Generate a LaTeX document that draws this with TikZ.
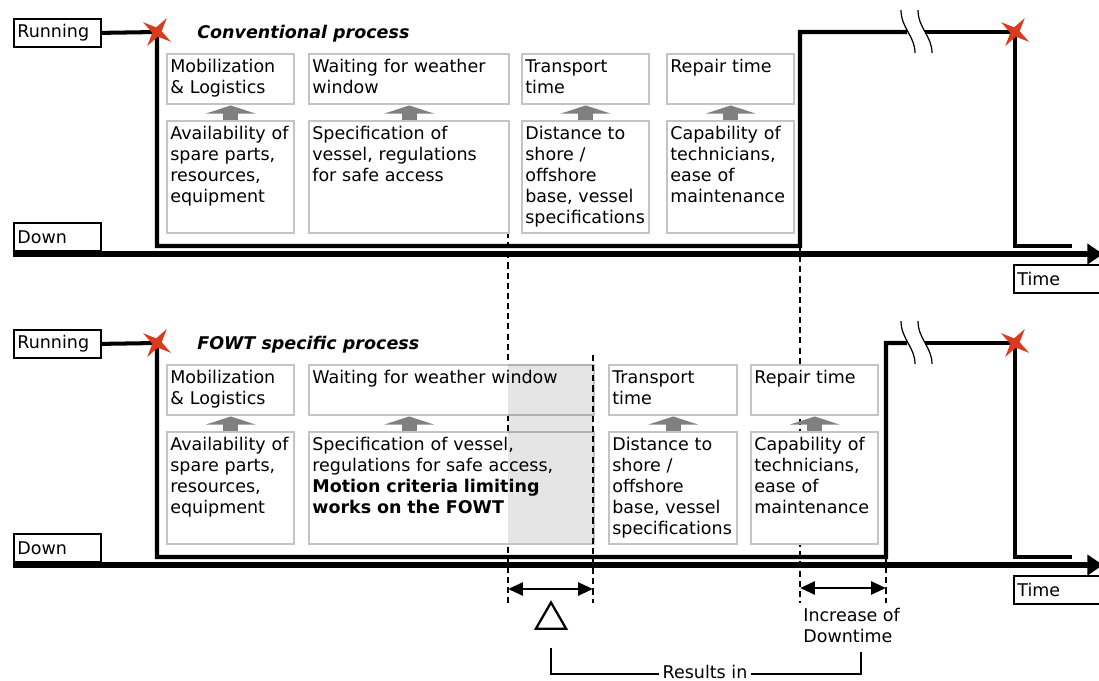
\documentclass[tikz,border=0pt]{standalone}
\usepackage{fontspec}
\setmainfont{DejaVu Sans}[ItalicFont={DejaVu Sans Oblique},BoldItalicFont={DejaVu Sans Bold Oblique}]
\usetikzlibrary{arrows.meta,shapes.geometric}

\definecolor{boxgray}{RGB}{196,196,196}
\definecolor{arrowgray}{RGB}{128,128,128}
\definecolor{failred}{RGB}{218,58,30}

\tikzset{
    gbox/.style={draw=boxgray, line width=1.4pt, fill=white, inner sep=0pt, anchor=north west},
    gtext/.style={inner sep=0pt, anchor=north west, text width=171pt, align=left},
    lbox/.style={draw, line width=1pt, fill=white, anchor=north west, minimum height=16pt, text width=45.7pt, inner xsep=2pt, inner ysep=1pt, align=left},
    proc/.style={line width=2.3pt},
    taxis/.style={line width=3pt, -{Triangle[length=9pt, width=11.5pt]}},
    gup/.style={draw=arrowgray, line width=8.6pt, -{Triangle[length=4.6pt, width=28pt]}},
    failstar/.style={star, star points=4, star point ratio=3.6, fill=failred, minimum size=19.5pt, inner sep=0pt, rotate=-35},
    brk/.style={line width=0.7pt},
    vdash/.style={line width=0.6pt, dash pattern=on 3.5pt off 2.3pt},
    span/.style={line width=1.7pt, {Triangle[length=8.5pt, width=7.3pt]}-{Triangle[length=8.5pt, width=7.3pt]}}
}

\begin{document}
\begin{tikzpicture}[x=0.5714pt, y=-0.5714pt]
        \useasboundingbox (0,0) rectangle (1099,680);

        \coordinate (da) at (508,232);
        \coordinate (db) at (508,603);
        \coordinate (dc) at (800,246);
        \coordinate (dd) at (800,603);
        \draw[vdash] (da) -- (db);
        \draw[vdash] (dc) -- (dd);

        \foreach \n/\xa/\xb/\ya/\yb/\txt in {
            m1/166/293/53/103/{Mobilization\\\& Logistics},
            w1/308/508/53/103/{Waiting for weather\\window},
            t1/521/648/53/103/{Transport\\time},
            r1/666/793/53/103/{Repair time},
            a1/166/293/120/232/{Availability of\\spare parts,\\resources,\\equipment},
            v1/308/508/120/232/{Specification of\\vessel, regulations\\for safe access},
            d1/521/648/120/232/{Distance to\\shore {/}\\offshore\\base, vessel\\specifications},
            c1/666/793/120/232/{Capability of\\technicians,\\ease of\\maintenance},
            m2/166/293/364/414/{Mobilization\\\& Logistics},
            w2/308/593/364/414/{Waiting for weather window},
            t2/608/736/364/414/{Transport\\time},
            r2/750/877/364/414/{Repair time},
            a2/166/293/431/543/{Availability of\\spare parts,\\resources,\\equipment},
            v2/308/593/431/543/{Specification of vessel,\\regulations for safe access,\\\textbf{Motion criteria limiting}\\\textbf{works on the FOWT}},
            d2/608/736/431/543/{Distance to\\shore {/}\\offshore\\base, vessel\\specifications},
            c2/750/877/431/543/{Capability of\\technicians,\\ease of\\maintenance}}{
            \pgfmathsetmacro\bw{(\xb-\xa)*0.5714}
            \pgfmathsetmacro\bh{(\yb-\ya)*0.5714}
            \node[gbox, minimum width=\bw pt, minimum height=\bh pt] (\n) at (\xa,\ya) {};
            \node[gtext] (\n txt) at ([shift={(4,6)}]\n.north west) {\txt};
        }

        \foreach \lo/\hi in {a1/m1, v1/w1, d1/t1, c1/r1, a2/m2, d2/t2, c2/r2}
            \draw[gup] (\lo.north) -- (\hi.south);
        \draw[gup] ([xshift=-24.3pt]v2.north) -- ([xshift=-24.3pt]w2.south);

        \fill[black, fill opacity=0.1] (508,364) rectangle (593,543);

        \coordinate (de) at (593,355);
        \coordinate (df) at (593,603);
        \coordinate (dg) at (886,557);
        \coordinate (dh) at (886,603);
        \draw[vdash] (de) -- (df);
        \draw[vdash] (dg) -- (dh);

        \node[lbox] (run1) at (13,18) {Running};
        \node[lbox] (down1) at (13,222) {Down};
        \node[lbox] (time1) at (1013,264) {Time};
        \node[lbox] (run2) at (13,329) {Running};
        \node[lbox] (down2) at (13,533) {Down};
        \node[lbox] (time2) at (1013,575) {Time};

        \node[anchor=base west, inner sep=0pt, font=\bfseries\itshape] (ttl1) at (197,38) {Conventional process};
        \node[anchor=base west, inner sep=0pt, font=\bfseries\itshape] (ttl2) at (197,349) {FOWT specific process};

        \draw[proc] (run1.east) -- (157,32) -- (157,246) -- (800,246) -- (800,32) -- (907,32);
        \draw[proc] (925,32) -- (1015,32) -- (1015,246) -- (1072,246);
        \draw[proc] (run2.east) -- (157,343) -- (157,557) -- (886,557) -- (886,343) -- (907,343);
        \draw[proc] (925,343) -- (1015,343) -- (1015,557) -- (1072,557);

        \draw[brk] (901,10) .. controls (901,28) and (915,36) .. (915,53);
        \draw[brk] (918,10) .. controls (918,28) and (932,36) .. (932,53);
        \draw[brk] (901,321) .. controls (901,339) and (915,347) .. (915,364);
        \draw[brk] (918,321) .. controls (918,339) and (932,347) .. (932,364);

        \coordinate (ax1) at (13,254);
        \coordinate (ax2) at (1103,254);
        \coordinate (ax3) at (13,565);
        \coordinate (ax4) at (1103,565);
        \draw[taxis] (ax1) -- (ax2);
        \draw[taxis] (ax3) -- (ax4);

        \node[failstar] (s1) at (157,32) {};
        \node[failstar] (s2) at (1015,32) {};
        \node[failstar] (s3) at (157,343) {};
        \node[failstar] (s4) at (1015,343) {};

        \draw[span] (508,589) -- (593,589);
        \draw[span] (800,588) -- (886,588);

        \node[regular polygon, regular polygon sides=3, draw, line width=1.3pt, minimum size=20pt, inner sep=0pt] (tri) at (551,620) {};
        \node[anchor=north west, inner sep=0pt, align=left] (inc) at (803,608) {Increase of\\Downtime};

        \coordinate (ra) at (551,648);
        \coordinate (rb) at (861,652);
        \draw[line width=0.7pt] (ra) -- (551,674) -| (rb);
        \node[fill=white, inner xsep=2pt, inner ysep=0.5pt, anchor=base] (res) at (705,678) {Results in};
    \end{tikzpicture}
\end{document}
